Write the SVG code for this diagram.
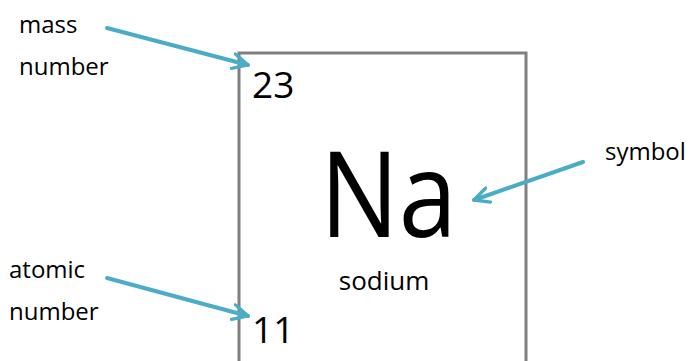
<svg xmlns="http://www.w3.org/2000/svg" width="691" height="361" viewBox="0 0 691 361">
<style>
.t{font-family:"Open Sans","Noto Sans","Liberation Sans",sans-serif;fill:#000}
.lbl{font-size:24px}
.arr{stroke:#4BACC6;stroke-width:4;fill:none;stroke-linecap:round}
</style>
<defs>
<marker id="ah" viewBox="0 0 12 12" refX="11" refY="6" markerWidth="18" markerHeight="18" markerUnits="userSpaceOnUse" orient="auto">
<path d="M1,1 L11,6 L1,11" fill="none" stroke="#4BACC6" stroke-width="2.2" stroke-linecap="round" stroke-linejoin="round"/>
</marker>
</defs>
<rect width="691" height="361" fill="#fff"/>
<g id="element">
<path d="M239,370 V53 H526 V370" fill="none" stroke="#808080" stroke-width="3"/>
<text class="t" x="252" y="98" font-size="37">23</text>
<text class="t" x="320" y="237" font-size="119" textLength="137" lengthAdjust="spacingAndGlyphs">Na</text>
<text class="t" x="384" y="290" font-size="26" text-anchor="middle">sodium</text>
<text class="t" x="252" y="343" font-size="37">11</text>
</g>
<g id="label-mass">
<text class="t lbl" x="19" y="33">mass</text>
<text class="t lbl" x="19" y="75">number</text>
</g>
<g id="label-symbol">
<text class="t lbl" x="605" y="160">symbol</text>
</g>
<g id="label-atomic">
<text class="t lbl" x="9" y="278">atomic</text>
<text class="t lbl" x="9" y="320">number</text>
</g>
<g id="connectors">
<line class="arr" x1="107" y1="28" x2="248" y2="65" marker-end="url(#ah)"/>
<line class="arr" x1="583" y1="162" x2="474" y2="200" marker-end="url(#ah)"/>
<line class="arr" x1="107" y1="278" x2="248" y2="316" marker-end="url(#ah)"/>
</g>
</svg>
